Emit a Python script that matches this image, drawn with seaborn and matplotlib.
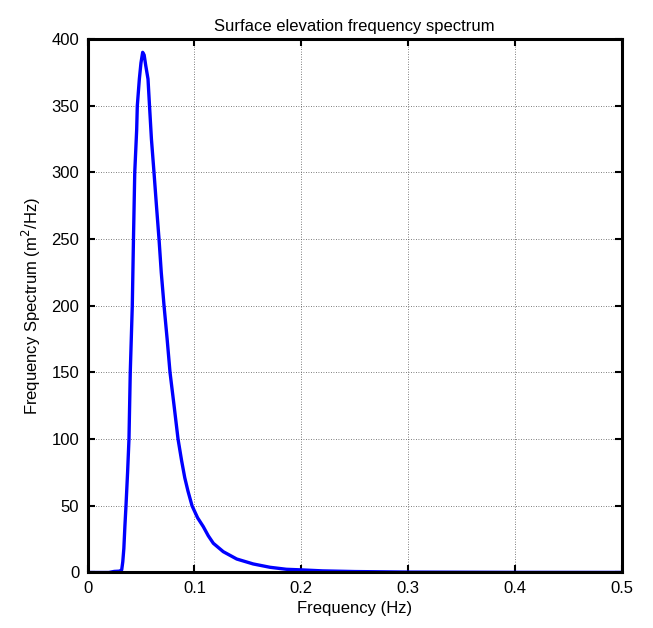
import matplotlib
matplotlib.use("Agg")
import matplotlib.pyplot as plt
import seaborn as sns
import pandas as pd

freq = [0.0, 0.020, 0.025, 0.030, 0.032, 0.033, 0.034, 0.035, 0.036, 0.0375,
        0.0388, 0.040, 0.0419, 0.043, 0.0442, 0.046, 0.0466, 0.0485, 0.050,
        0.0516, 0.053, 0.0545, 0.0566, 0.0580, 0.0598, 0.0622, 0.0645, 0.0669,
        0.069, 0.0716, 0.0745, 0.0772, 0.081, 0.0847, 0.088, 0.091, 0.094,
        0.0978, 0.1030, 0.1083, 0.1130, 0.1177, 0.127, 0.1396, 0.155, 0.1707,
        0.186, 0.2016, 0.22, 0.25, 0.3, 0.4, 0.5]
spec = [0.0, 0.0, 0.8, 1.0, 2, 8, 18, 35, 50, 75,
        100, 150, 200, 250, 300, 332, 350, 370, 382,
        390, 388, 380, 370, 350, 325, 300, 275, 250,
        225, 200, 175, 150, 125, 100, 84, 71, 61,
        50, 41, 34.4, 27.5, 21.9, 15.6, 10.1, 6.4, 3.9,
        2.4, 1.9, 1.2, 0.7, 0.3, 0.1, 0.05]

xticks = [0, 0.1, 0.2, 0.3, 0.4, 0.5]
xticklabels = ["0", "0.1", "0.2", "0.3", "0.4", "0.5"]
yticks = [0, 50, 100, 150, 200, 250, 300, 350, 400]

df = pd.DataFrame({"f": freq, "S": spec})

sns.set_theme(style="white")
plt.rcParams["font.family"] = ["Liberation Sans", "DejaVu Sans"]
plt.rcParams["text.color"] = "black"
plt.rcParams["axes.labelcolor"] = "black"

fig = plt.figure(figsize=(6.53, 6.28), dpi=100)
ax = fig.add_axes([0.134, 0.0884, 0.8185, 0.8495])

sns.lineplot(data=df, x="f", y="S", ax=ax, color=(0, 0, 1), linewidth=2.4,
             sort=False)

ax.set_xlim(0, 0.5)
ax.set_ylim(0, 400)
ax.set_xticks(xticks)
ax.set_xticklabels(xticklabels)
ax.set_yticks(yticks)
ax.grid(True, color="#555555", linestyle=(0, (1, 2)), linewidth=0.6)
ax.tick_params(direction="in", length=5, width=1.5, labelsize=12, colors="black",
               top=True, right=True, bottom=True, left=True, pad=6)
for sp in ax.spines.values():
    sp.set_linewidth(2.2)
    sp.set_color("black")
ax.set_title("Surface elevation frequency spectrum", fontsize=12, pad=6, color="black")
ax.set_xlabel("Frequency (Hz)", fontsize=12, labelpad=4)
ax.set_ylabel("Frequency Spectrum (m$^2$/Hz)", fontsize=12, labelpad=6)

fig.savefig("out.png", dpi=100)
